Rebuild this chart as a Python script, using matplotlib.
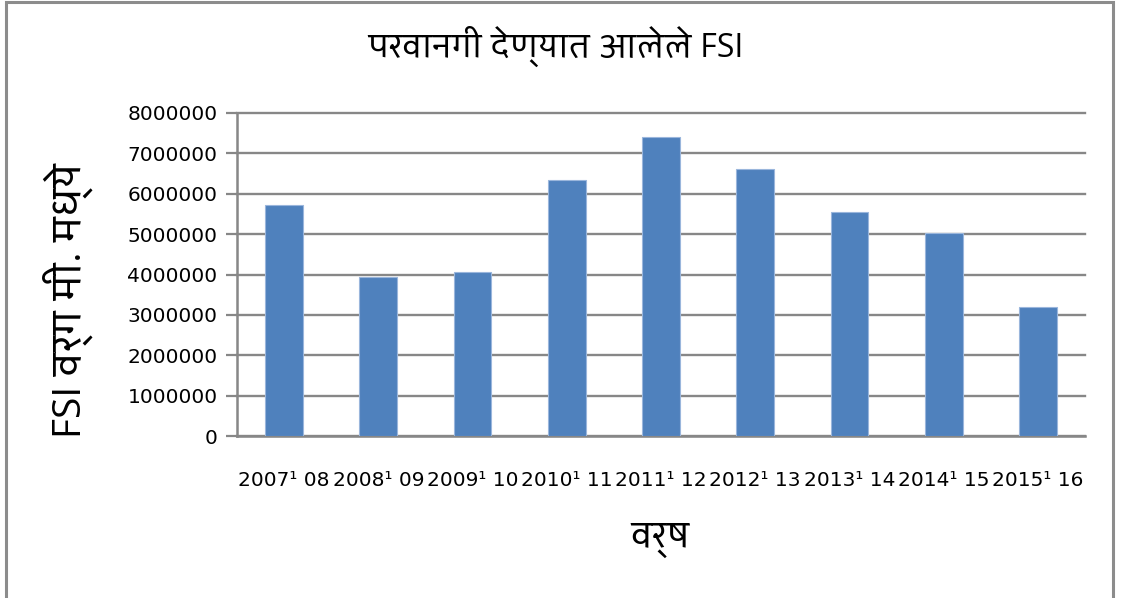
import matplotlib
matplotlib.use("Agg")
import matplotlib.pyplot as plt
from matplotlib.patches import Rectangle
import logging
logging.getLogger('matplotlib.font_manager').setLevel(logging.ERROR)

categories = ["2007¹ 08", "2008¹ 09", "2009¹ 10", "2010¹ 11", "2011¹ 12",
              "2012¹ 13", "2013¹ 14", "2014¹ 15", "2015¹ 16"]
values = [5720000, 3940000, 4070000, 6350000, 7410000, 6610000, 5540000, 5030000, 3190000]
yticks = [0, 1000000, 2000000, 3000000, 4000000, 5000000, 6000000, 7000000, 8000000]

title = "परवानगी देण्यात आलेले FSI"
xlabel = "वर्ष"
ylabel = "FSI वर्ग मी. मध्ये"

W, H = 1121, 598
fig = plt.figure(figsize=(W / 100, H / 100), dpi=100)
fig.patch.set_facecolor("white")

# outer chart border
fig.patches.append(Rectangle((6 / W, -0.05), (1113 - 6) / W, 1.05 - 2 / H,
                             transform=fig.transFigure, fill=False,
                             edgecolor="#8c8c8c", linewidth=2.2))

ax = fig.add_axes([237 / W, 1 - 436 / H, (1085 - 237) / W, (436 - 113) / H])
x = list(range(len(categories)))
ax.bar(x, values, width=0.4, color="#4F81BD", edgecolor="#9ab6dc", linewidth=0.8, zorder=3)
ax.set_xlim(-0.5, len(categories) - 0.5)
ax.set_ylim(0, 8000000)
ax.set_yticks(yticks)
ax.set_yticklabels([str(v) for v in yticks])
ax.set_xticks(x)
ax.set_xticklabels(categories)
ax.yaxis.grid(True, color="#878787", linewidth=1.7, zorder=0, clip_on=False)
ax.set_axisbelow(True)
for s in ["top", "right"]:
    ax.spines[s].set_visible(False)
for s in ["left", "bottom"]:
    ax.spines[s].set_color("#878787")
    ax.spines[s].set_linewidth(1.8)
ax.tick_params(axis="y", length=8, width=1.6, color="#878787", labelsize=14.5, pad=6)
ax.tick_params(axis="x", length=0, labelsize=14.5, pad=25)

for lab in ax.get_xticklabels() + ax.get_yticklabels():
    lab.set_family(["DejaVu Sans"])

fam = ["Open Sans", "Palanquin", "DejaVu Sans"]
fig.text(555 / W, 1 - 46 / H, title, ha="center", va="center", fontsize=23,
         family=fam)
fig.text(660 / W, 1 - 540 / H, xlabel, ha="center", va="center", fontsize=25,
         family=fam)
fig.text(68 / W, 1 - 300 / H, ylabel, ha="center", va="center", fontsize=28,
         rotation=90, family=fam)

fig.savefig("out.png", dpi=100, facecolor="white")
